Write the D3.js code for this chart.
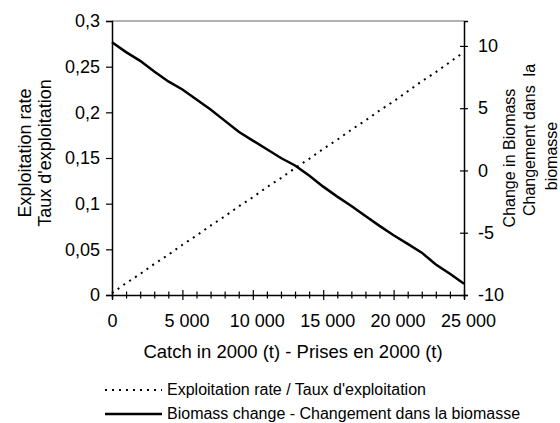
<!DOCTYPE html>
<html>
<head>
<meta charset="utf-8">
<script src="https://cdn.jsdelivr.net/npm/d3@7"></script>
<style>
  body { margin: 0; background: #fff; }
  text { font-family: "Liberation Sans", Arial, sans-serif; fill: #000; }
</style>
</head>
<body>
<svg width="560" height="423"></svg>
<script>
const catchT = d3.range(0, 25001, 1000);
const exploitationRate = [0.002, 0.013, 0.023, 0.034, 0.044, 0.055, 0.065, 0.076, 0.086, 0.097,
  0.107, 0.118, 0.128, 0.139, 0.149, 0.160, 0.170, 0.181, 0.191, 0.202,
  0.212, 0.223, 0.234, 0.244, 0.255, 0.266];
const biomassChange = [10.3, 9.5, 8.8, 7.95, 7.15, 6.5, 5.7, 4.9, 4.0, 3.1,
  2.4, 1.7, 1.0, 0.4, -0.4, -1.3, -2.1, -2.85, -3.65, -4.45,
  -5.2, -5.9, -6.6, -7.55, -8.3, -9.1];
const xMajor = [0, 5000, 10000, 15000, 20000, 25000];
const leftTicks = [0, 0.05, 0.1, 0.15, 0.2, 0.25, 0.3];
const rightTicks = [-10, -5, 0, 5, 10];

const loc = d3.formatLocale({ decimal: ",", thousands: "\u00a0", grouping: [3], currency: ["", ""] });
const fmtX = loc.format(",d");
const fmtL = loc.format("~g");

const svg = d3.select('svg');

const x = d3.scaleLinear().domain([0, 25000]).range([112, 464]);
const yL = d3.scaleLinear().domain([0, 0.3]).range([295, 21]);
const yR = d3.scaleLinear().domain([-10, 12]).range([295, 21]);

// top border
svg.append('line')
  .attr('x1', 112).attr('x2', 464).attr('y1', 21).attr('y2', 21)
  .attr('stroke', '#9a9a9a').attr('stroke-width', 1.5);

// x axis, minor ticks every 1000
const xAxis = svg.append('g')
  .attr('transform', 'translate(0,295)')
  .call(d3.axisBottom(x)
    .tickValues(catchT)
    .tickSizeOuter(0)
    .tickSize(4)
    .tickPadding(15)
    .tickFormat(d => xMajor.includes(d) ? fmtX(d) : ''));
xAxis.selectAll('.tick line')
  .attr('y1', d => xMajor.includes(d) ? -5 : -3.5)
  .attr('y2', d => xMajor.includes(d) ? 5 : 3.5);
xAxis.selectAll('.tick text').attr('dx', d => d > 0 ? 4 : 0);

// left axis
svg.append('g')
  .attr('transform', 'translate(112,0)')
  .call(d3.axisLeft(yL)
    .tickValues(leftTicks)
    .tickSizeOuter(0)
    .tickSize(6)
    .tickPadding(6)
    .tickFormat(fmtL));

// right axis
const rAxis = svg.append('g')
  .attr('transform', 'translate(464,0)')
  .call(d3.axisRight(yR)
    .tickValues(rightTicks)
    .tickSizeOuter(0)
    .tickSize(4)
    .tickPadding(10)
    .tickFormat(d => d));

svg.selectAll('.domain').attr('stroke', '#000').attr('stroke-width', 1.5);
svg.selectAll('.tick line').attr('stroke', '#000').attr('stroke-width', 1.2);
rAxis.selectAll('.tick line').attr('x1', -4).attr('x2', 4);
svg.selectAll('.tick text').style('font-size', '18px')
  .style('font-family', '"Liberation Sans", Arial, sans-serif');

// lines
const dataE = catchT.map((c, i) => ({ c, v: exploitationRate[i] }));
const dataB = catchT.map((c, i) => ({ c, v: biomassChange[i] }));

svg.append('path')
  .datum(dataE)
  .attr('fill', 'none')
  .attr('stroke', '#000')
  .attr('stroke-width', 2)
  .attr('stroke-dasharray', '2,5')
  .attr('d', d3.line().x(d => x(d.c)).y(d => yL(d.v)));

svg.append('path')
  .datum(dataB)
  .attr('fill', 'none')
  .attr('stroke', '#000')
  .attr('stroke-width', 2.5)
  .attr('d', d3.line().x(d => x(d.c)).y(d => yR(d.v)));

// axis titles
svg.append('text')
  .attr('x', 293).attr('y', 358)
  .attr('text-anchor', 'middle')
  .style('font-size', '18.5px')
  .text('Catch in 2000 (t) - Prises en 2000 (t)');

const leftTitle = ['Exploitation rate', "Taux d'exploitation"];
svg.append('g')
  .attr('transform', 'translate(31,153) rotate(-90)')
  .selectAll('text')
  .data(leftTitle)
  .enter()
  .append('text')
  .attr('x', 0)
  .attr('y', (d, i) => i * 20)
  .attr('text-anchor', 'middle')
  .style('font-size', '18px')
  .text(d => d);

const rightTitle = [
  { t: 'Change in Biomass', cy: 158, bx: 515 },
  { t: 'Changement dans  la', cy: 140, bx: 535 },
  { t: 'biomasse', cy: 156, bx: 557 }
];
svg.selectAll('.rtitle')
  .data(rightTitle)
  .enter()
  .append('text')
  .attr('class', 'rtitle')
  .attr('transform', d => `translate(${d.bx},${d.cy}) rotate(-90)`)
  .attr('text-anchor', 'middle')
  .style('white-space', 'pre')
  .style('font-size', '16px')
  .text(d => d.t);

// legend
const legend = [
  { label: 'Exploitation rate / Taux d\'exploitation', dash: '2,5', w: 2, y: 390 },
  { label: 'Biomass change - Changement dans la biomasse', dash: null, w: 2.5, y: 414 }
];
const lg = svg.append('g');
lg.selectAll('line')
  .data(legend)
  .enter()
  .append('line')
  .attr('x1', 105).attr('x2', 162)
  .attr('y1', d => d.y).attr('y2', d => d.y)
  .attr('stroke', '#000')
  .attr('stroke-width', d => d.w)
  .attr('stroke-dasharray', d => d.dash);
lg.selectAll('text')
  .data(legend)
  .enter()
  .append('text')
  .attr('x', 167)
  .attr('y', d => d.y + 5)
  .style('font-size', '16px')
  .text(d => d.label);
</script>
</body>
</html>
